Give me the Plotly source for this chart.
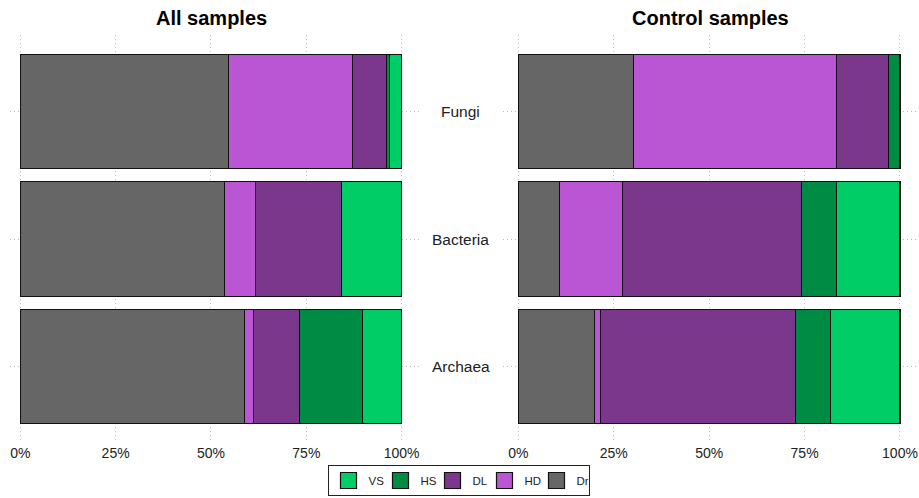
import plotly.graph_objects as go

categories = ["Fungi", "Bacteria", "Archaea"]
groups = ["Dr", "HD", "DL", "HS", "VS"]
colors = {"Dr": "#666666", "HD": "#BA55D3", "DL": "#7A378B", "HS": "#008B45", "VS": "#00CD66"}

# proportions (fraction) per category: Fungi, Bacteria, Archaea
all_samples = {
    "Dr": [0.545, 0.536, 0.587],
    "HD": [0.326, 0.080, 0.024],
    "DL": [0.089, 0.226, 0.121],
    "HS": [0.009, 0.0, 0.166],
    "VS": [0.031, 0.158, 0.102],
}
control_samples = {
    "Dr": [0.302, 0.107, 0.200],
    "HD": [0.531, 0.165, 0.015],
    "DL": [0.136, 0.469, 0.512],
    "HS": [0.031, 0.092, 0.090],
    "VS": [0.0, 0.167, 0.183],
}
panel_titles = ["All samples", "Control samples"]
tick_vals = [0, 0.25, 0.5, 0.75, 1.0]
tick_text = ["0%", "25%", "50%", "75%", "100%"]

FONT = "Liberation Sans, Arial, sans-serif"
fig = go.Figure()
for pi, data in enumerate([all_samples, control_samples]):
    xa = "x" if pi == 0 else "x2"
    ya = "y" if pi == 0 else "y2"
    for g in groups:
        fig.add_trace(go.Bar(
            x=[v if v > 0 else None for v in data[g]],
            y=list(range(len(categories))),
            orientation="h",
            name=g,
            legendgroup=g,
            showlegend=False,
            marker=dict(color=colors[g], line=dict(color="#111111", width=1.2)),
            width=0.9,
            xaxis=xa, yaxis=ya,
            hovertext=categories,
        ))

# legend-only entries (larger square keys, like the reference)
for g in groups:
    fig.add_trace(go.Scatter(
        x=[None], y=[None], mode="markers", name=g, legendgroup=g,
        marker=dict(symbol="square", size=16, color=colors[g],
                    line=dict(color="#111111", width=1.2)),
        showlegend=True, xaxis="x", yaxis="y",
    ))

W, H = 919, 498
GRID = dict(showgrid=True, gridcolor="#bdbdbd", griddash="1px,3px", gridwidth=1)
axis_common = dict(
    tickvals=tick_vals, ticktext=tick_text,
    zeroline=False, showline=False, ticks="",
    tickfont=dict(family=FONT, size=14, color="#222222"),
    **GRID,
)
yaxis_common = dict(
    range=[2.6, -0.6], tickvals=[0, 1, 2], showticklabels=False,
    zeroline=False, showline=False, ticks="",
    **GRID,
)

fig.update_layout(
    width=W, height=H,
    margin=dict(l=0, r=0, t=35, b=55),
    paper_bgcolor="white", plot_bgcolor="white",
    barmode="stack",
    bargap=0.1,
    xaxis=dict(domain=[10 / W, 421 / W], range=[-0.027, 1.0507], **axis_common),
    xaxis2=dict(domain=[503 / W, 1.0], range=[-0.0401, 1.0498], anchor="y2", **axis_common),
    yaxis=dict(domain=[0, 1], anchor="x", **yaxis_common),
    yaxis2=dict(domain=[0, 1], anchor="x2", **yaxis_common),
    legend=dict(
        orientation="h", traceorder="reversed",
        x=458.5 / W, xanchor="center", y=-(465 - 443) / (H - 35 - 55), yanchor="top",
        bordercolor="#222222", borderwidth=1,
        font=dict(family=FONT, size=11.5, color="#222222"),
        itemwidth=30, entrywidth=7, entrywidthmode="pixels",
        itemsizing="trace", tracegroupgap=0,
    ),
    showlegend=True,
    font=dict(family=FONT),
)

annotations = []
plot_h = H - 35 - 55
for t, cx in zip(panel_titles, [211, 710]):
    annotations.append(dict(
        text="<b>%s</b>" % t, x=cx / W, y=1 + (35 - 18) / plot_h,
        xref="paper", yref="paper",
        showarrow=False, font=dict(family=FONT, size=20, color="black"),
        xanchor="center", yanchor="middle",
    ))
for i, c in enumerate(categories):
    annotations.append(dict(
        text=c, x=460.5 / W, xref="paper", y=i, yref="y",
        showarrow=False, font=dict(family=FONT, size=15.5, color="#222222"),
        xanchor="center", yanchor="middle",
    ))
fig.update_layout(annotations=annotations)

fig.write_html("out.html")
